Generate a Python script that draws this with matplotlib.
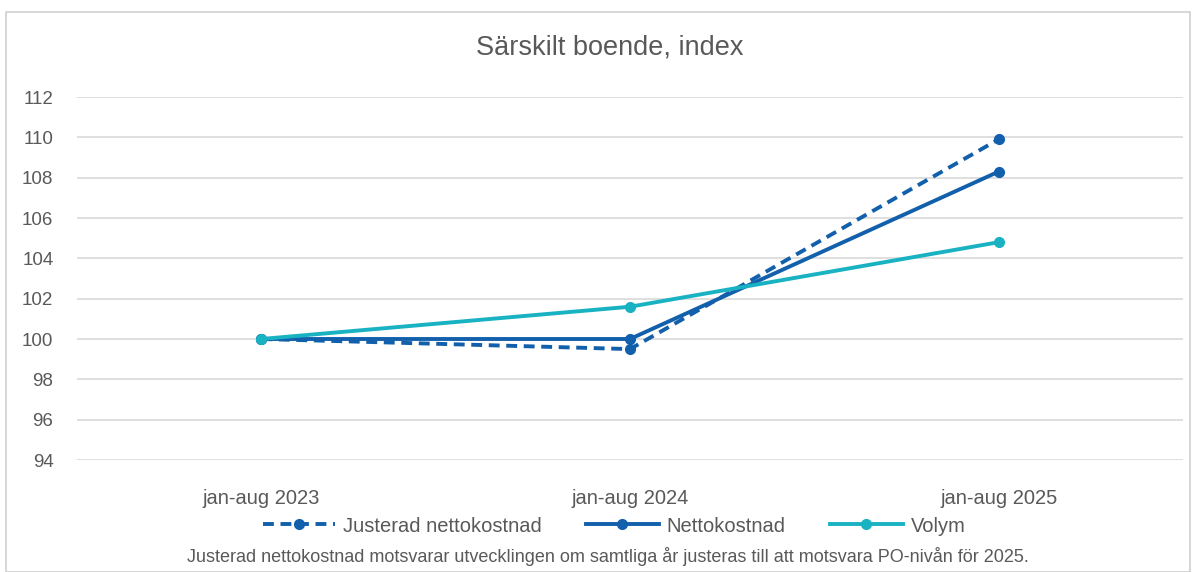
import matplotlib.pyplot as plt
from matplotlib.patches import Rectangle

# data
categories = ['jan-aug 2023', 'jan-aug 2024', 'jan-aug 2025']
justerad = [100.0, 99.5, 109.9]
netto = [100.0, 100.0, 108.3]
volym = [100.0, 101.6, 104.8]
yticks = list(range(94, 113, 2))

blue = '#1260AB'
teal = '#19B2C2'
grey = '#595959'

plt.rcParams['font.family'] = ['Liberation Sans', 'DejaVu Sans']

fig = plt.figure(figsize=(12.03, 5.72), dpi=100)
fig.patches.append(Rectangle((6 / 1203, 0), 1184 / 1203, 1 - 12 / 572, transform=fig.transFigure,
                             fill=False, edgecolor='#d0d0d0', linewidth=1.2))

ax = fig.add_axes([77 / 1203, 1 - 460 / 572, (1183 - 77) / 1203, (460 - 97) / 572])
x = range(len(categories))

ax.plot(x, justerad, color=blue, lw=2.8, ls=(0, (2.8, 1.7)), marker='o', ms=7,
        label='Justerad nettokostnad')
ax.plot(x, netto, color=blue, lw=2.8, marker='o', ms=7, label='Nettokostnad')
ax.plot(x, volym, color=teal, lw=2.8, marker='o', ms=7, label='Volym')

ax.set_xlim(-0.5, 2.5)
ax.set_ylim(94, 112)
ax.set_yticks(yticks)
ax.set_xticks(list(x))
ax.set_xticklabels(categories)
ax.tick_params(length=0, colors=grey)
ax.tick_params(axis='y', pad=17, labelsize=13.5)
ax.tick_params(axis='x', pad=21, labelsize=14.5)
ax.grid(axis='y', color='#d9d9d9', lw=1.2)
ax.set_axisbelow(True)
for s in ax.spines.values():
    s.set_visible(False)

fig.text(610 / 1203, 1 - 48 / 572, 'Särskilt boende, index', ha='center', va='center',
         fontsize=19.5, color=grey)

fig.legend(loc='center', bbox_to_anchor=(614 / 1203, 1 - 526 / 572), ncol=3, frameon=False,
           fontsize=14.5, handlelength=3.6, columnspacing=2.2, labelcolor=grey, handletextpad=0.4)

fig.text(608 / 1203, 1 - 556 / 572,
         'Justerad nettokostnad motsvarar utvecklingen om samtliga år justeras till att motsvara PO-nivån för 2025.',
         ha='center', va='center', fontsize=13, color=grey)

fig.savefig('out.png', dpi=100)
